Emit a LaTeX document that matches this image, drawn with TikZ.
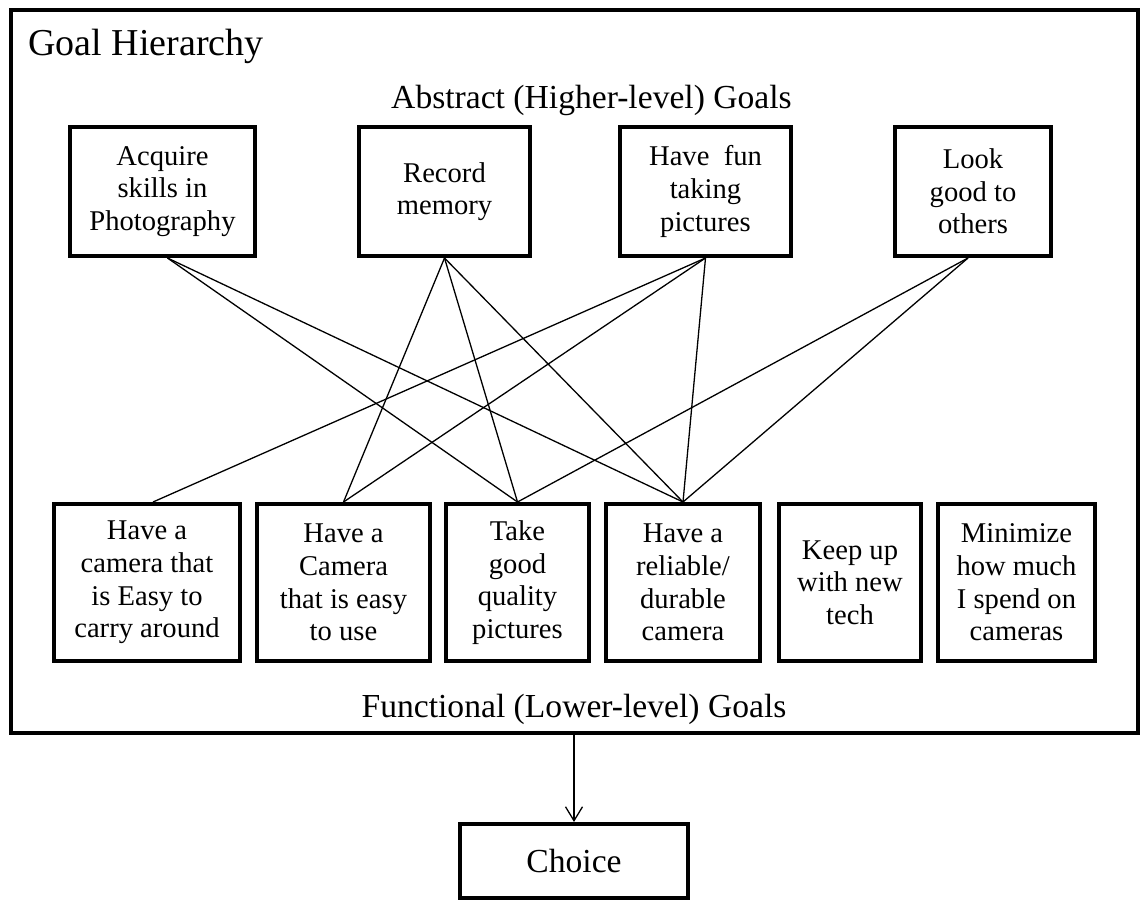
\documentclass[tikz,border=0pt]{standalone}
\usepackage{fontspec}
\setmainfont{Liberation Serif}
\usetikzlibrary{arrows.meta}
\newcommand*{\tophgt}{64.5pt}
\newcommand*{\lowhgt}{78.5pt}
\newcommand*{\boxfont}{\fontsize{14.3}{16.3}\selectfont}
\newcommand*{\capfont}{\fontsize{16.8}{19}\selectfont}
\newcommand*{\ttlfont}{\fontsize{19}{22}\selectfont}

\begin{document}
\begin{tikzpicture}[x=0.5pt, y=-0.5pt,
    goal/.style={draw, line width=2pt, align=center, inner sep=0pt, font=\boxfont},
    link/.style={line width=0.65pt}]
    \useasboundingbox (0,0) rectangle (1146,921);
    \draw [line width=2pt] (11,10) rectangle (1138,733);
        \node [anchor=base west, inner sep=0pt, font=\ttlfont] (title) at (28,55) {Goal Hierarchy};
        \node [anchor=base, font=\capfont] (abstr) at (591.5,108) {Abstract (Higher-level) Goals};
        \node [anchor=base, font=\capfont] (funct) at (574,717) {Functional (Lower-level) Goals};
        % abstract goals
        \node [goal, minimum width=92.5pt, minimum height=\tophgt] (skills) at (162.5,191.5) {Acquire\\skills in\\Photography};
        \node [goal, minimum width=85.5pt, minimum height=\tophgt] (memory) at (444.5,191.5) {Record\\memory};
        \node [goal, minimum width=85.5pt, minimum height=\tophgt] (fun)    at (705.5,191.5) {Have~ fun\\taking\\pictures};
        \node [goal, minimum width=78pt,   minimum height=\tophgt] (look)   at (973,191.5)   {Look\\good to\\others};
        % functional goals
        \node [goal, minimum width=93pt,   minimum height=\lowhgt] (carry)   at (147,582.5)    {Have a\\camera that\\is Easy to\\carry around};
        \node [goal, minimum width=86.5pt, minimum height=\lowhgt] (easy)    at (343.5,582.5)  {Have a\\Camera\\that is easy\\to use};
        \node [goal, minimum width=71.5pt, minimum height=\lowhgt] (quality) at (517.5,582.5)  {Take\\good\\quality\\pictures};
        \node [goal, minimum width=77pt,   minimum height=\lowhgt] (durable) at (683,582.5)    {Have a\\reliable/\\durable\\camera};
        \node [goal, minimum width=71pt,   minimum height=\lowhgt] (tech)    at (850,582.5)    {Keep up\\with new\\tech};
        \node [goal, minimum width=78.5pt, minimum height=\lowhgt] (spend)   at (1016.5,582.5) {Minimize\\how much\\I spend on\\cameras};
        \node [goal, minimum width=114pt,  minimum height=37pt, font=\capfont] (choice) at (574,861) {Choice};
        \draw [link] ([xshift=2.5pt]skills.south) -- (quality.north);
        \draw [link] ([xshift=2.5pt]skills.south) -- (durable.north);
        \draw [link] (memory.south) -- (easy.north);
        \draw [link] (memory.south) -- (quality.north);
        \draw [link] (memory.south) -- (durable.north);
        \draw [link] (fun.south) -- ([xshift=3pt]carry.north);
        \draw [link] (fun.south) -- (easy.north);
        \draw [link] (fun.south) -- (durable.north);
        \draw [link] ([xshift=-2.5pt]look.south) -- (quality.north);
        \draw [link] ([xshift=-2.5pt]look.south) -- (durable.north);
        \coordinate (frame) at (574,733);
        \draw [link, -{Straight Barb[length=7pt, width=8.5pt]}] (frame) -- (choice.north);
    \end{tikzpicture}
\end{document}
